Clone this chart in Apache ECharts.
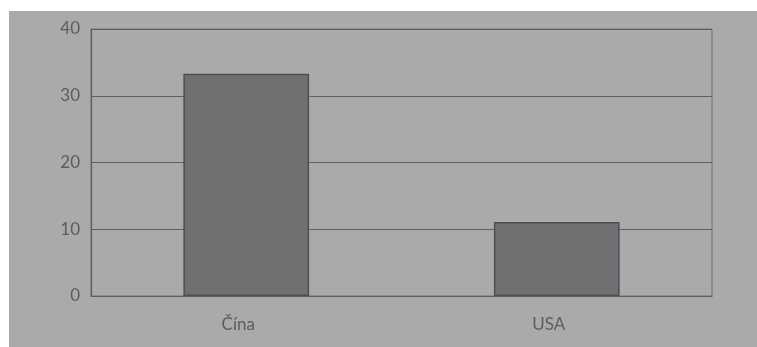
<!DOCTYPE html>
<html>
<head>
<meta charset="utf-8">
<script src="https://cdn.jsdelivr.net/npm/echarts@6/dist/echarts.min.js"></script>
<style>
  html, body { margin: 0; padding: 0; background: #ffffff; }
  #chart { width: 757px; height: 347px; }
</style>
</head>
<body>
<div id="chart"></div>
<script>
// Categories and values
const categories = ['Čína', 'USA'];
const values = [33.3, 11.1];
const yTicks = [0, 10, 20, 30, 40];

const chart = echarts.init(document.getElementById('chart'), null, { renderer: 'canvas' });

const lineColor = '#5f6062';
const textColor = '#5c5d5f';

chart.setOption({
  animation: false,
  backgroundColor: '#ffffff',
  graphic: [{
    type: 'rect',
    z: -10,
    silent: true,
    shape: { x: 9, y: 11, width: 748, height: 336 },
    style: { fill: '#a9aaac' }
  }],
  grid: {
    left: 91, top: 29, right: 45, bottom: 51,
    show: true,
    backgroundColor: 'transparent',
    borderColor: '#707173',
    borderWidth: 1
  },
  xAxis: {
    type: 'category',
    data: categories,
    axisLine: { show: true, lineStyle: { color: lineColor, width: 1.2 } },
    axisTick: { show: false },
    axisLabel: {
      color: textColor,
      fontFamily: 'Lato, "DejaVu Sans", sans-serif',
      fontSize: 17,
      margin: 20,
      padding: [0, 16, 0, 0]
    }
  },
  yAxis: {
    type: 'value',
    min: yTicks[0],
    max: yTicks[yTicks.length - 1],
    interval: 10,
    axisLine: { show: true, lineStyle: { color: lineColor, width: 1.2 } },
    axisTick: { show: false },
    splitLine: { show: true, lineStyle: { color: lineColor, width: 1.2 } },
    axisLabel: {
      color: textColor,
      fontFamily: 'Lato, "DejaVu Sans", sans-serif',
      fontSize: 17,
      margin: 11
    }
  },
  series: [{
    type: 'bar',
    data: values,
    barWidth: '40.5%',
    itemStyle: {
      color: '#6f7072',
      borderColor: '#4e4f51',
      borderWidth: 1.5
    }
  }]
});
</script>
</body>
</html>
